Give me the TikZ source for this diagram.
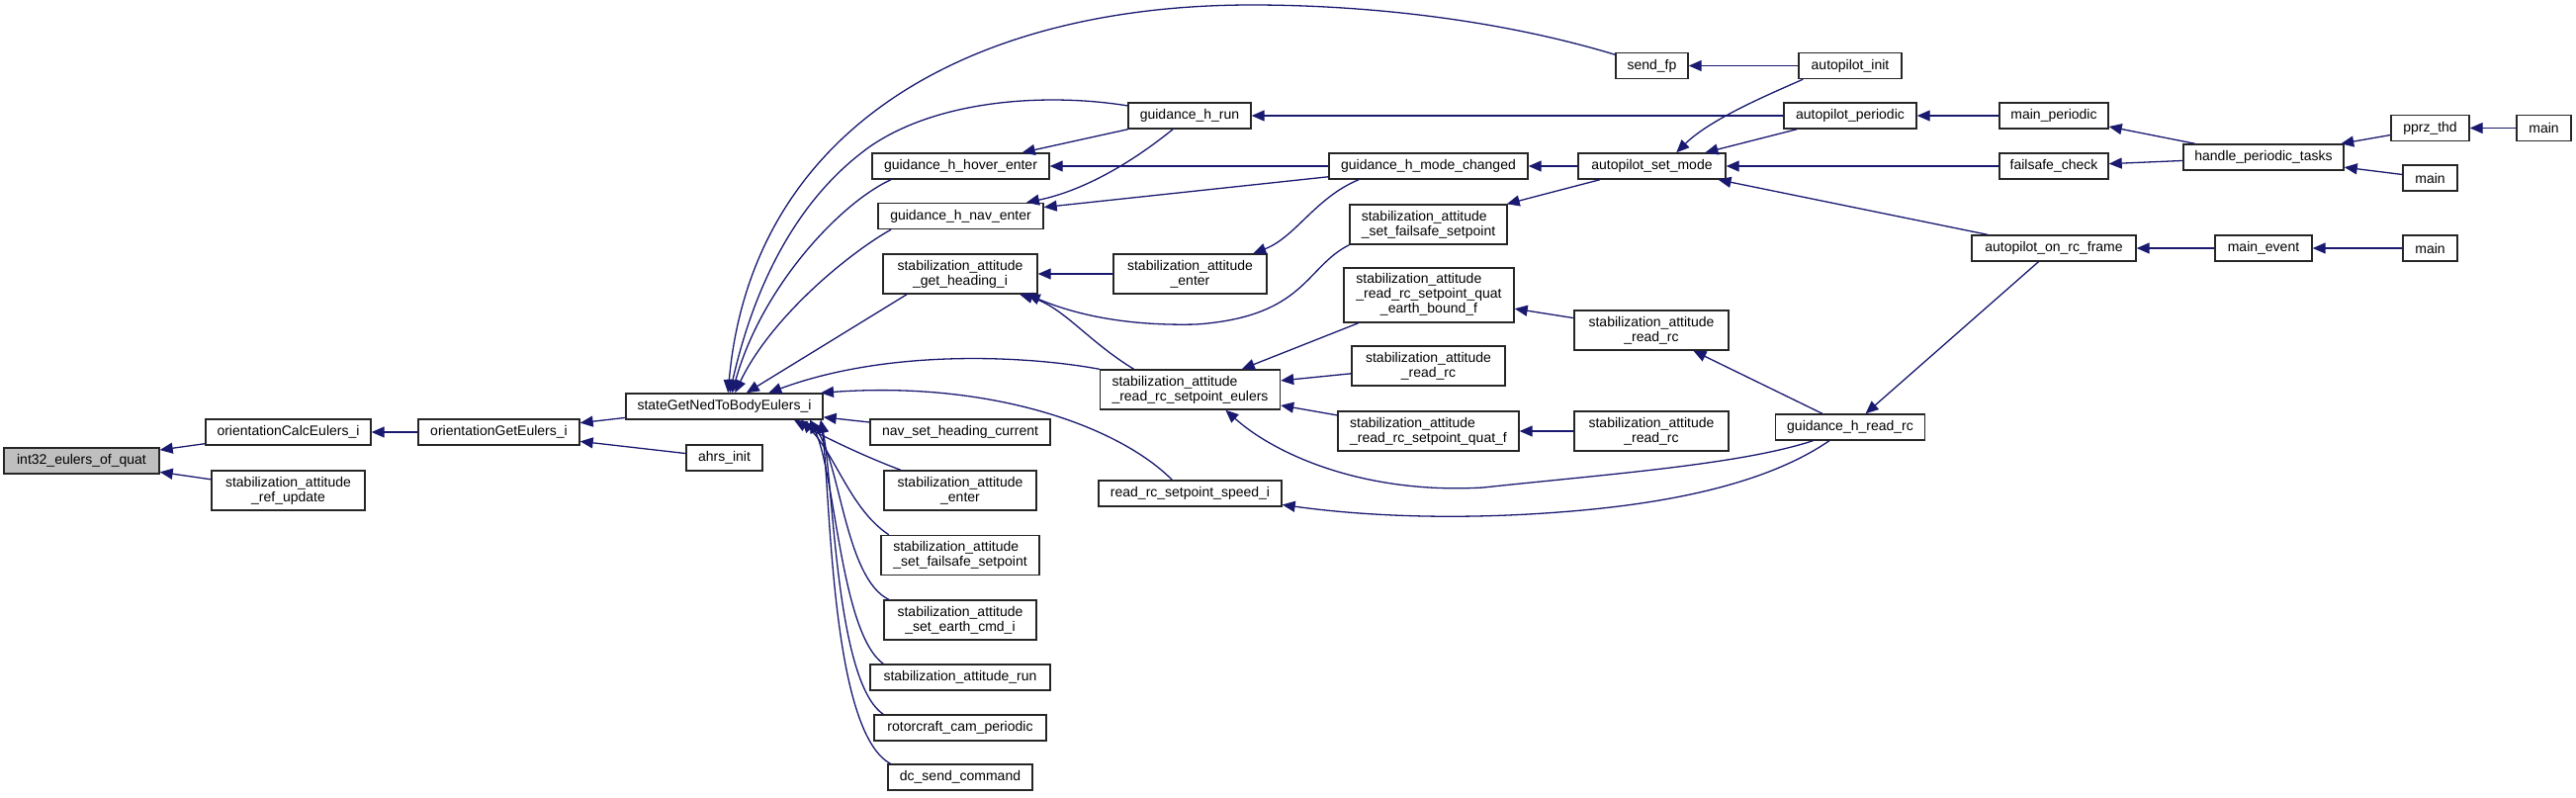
\documentclass[tikz,border=0pt]{standalone}
\usepackage{fontspec}
\setmainfont{Liberation Sans}
\usetikzlibrary{arrows.meta}
\definecolor{edgeblue}{HTML}{191970}

\begin{document}
\begin{tikzpicture}[x=1pt,y=-1pt,
    fn/.style={draw=black!85,line width=1.4pt,fill=white,inner sep=0pt,
      minimum height=26pt,align=center,font=\fontsize{14}{15}\selectfont},
    fntwo/.style={fn,minimum height=40pt},
    fnhere/.style={fn,fill=black!25},
    call/.style={draw=edgeblue,line width=1.3pt,-{Triangle[length=13pt,width=11pt]}}]
  \useasboundingbox (0,0) rectangle (2605,806);

  % NODES (left to right)
  \node[fnhere,minimum width=157pt] (int32) at (82.5,466) {int32\_eulers\_of\_quat};

  \node[fn,minimum width=167pt]    (calc)   at (291.5,437) {orientationCalcEulers\_i};
  \node[fntwo,minimum width=155pt] (refupd) at (291.5,496) {stabilization\_attitude\\\_ref\_update};

  \node[fn,minimum width=163pt] (geteul) at (504.5,437) {orientationGetEulers\_i};

  \node[fn,minimum width=199pt] (stateget) at (732.5,411) {stateGetNedToBodyEulers\_i};
  \node[fn,minimum width=77pt]  (ahrs)     at (732.5,463) {ahrs\_init};

  \node[fn,minimum width=179pt]    (hover)   at (971.5,168) {guidance\_h\_hover\_enter};
  \node[fn,minimum width=167pt]    (nav)     at (971.5,218.5) {guidance\_h\_nav\_enter};
  \node[fntwo,minimum width=156pt] (heading) at (971,277) {stabilization\_attitude\\\_get\_heading\_i};
  \node[fn,minimum width=182pt]    (navset)  at (971,437) {nav\_set\_heading\_current};
  \node[fntwo,minimum width=154pt] (enter2)  at (971,496) {stabilization\_attitude\\\_enter};
  \node[fntwo,minimum width=160pt,align=left] (fsafe2) at (971,561.5) {stabilization\_attitude\\\_set\_failsafe\_setpoint};
  \node[fntwo,minimum width=154pt] (earth)   at (971,627) {stabilization\_attitude\\\_set\_earth\_cmd\_i};
  \node[fn,minimum width=182pt]    (run)     at (971,685) {stabilization\_attitude\_run};
  \node[fn,minimum width=174pt]    (cam)     at (971,736) {rotorcraft\_cam\_periodic};
  \node[fn,minimum width=146pt]    (dc)      at (971,786) {dc\_send\_command};

  \node[fn,minimum width=124pt]    (hrun)   at (1203,117) {guidance\_h\_run};
  \node[fntwo,minimum width=155pt] (enter1) at (1203.5,277) {stabilization\_attitude\\\_enter};
  \node[fntwo,minimum width=182pt,align=left] (eulers) at (1203.5,394) {stabilization\_attitude\\\_read\_rc\_setpoint\_eulers};
  \node[fn,minimum width=185pt]    (speedi) at (1203.5,499) {read\_rc\_setpoint\_speed\_i};

  \node[fn,minimum width=201pt]    (modechg) at (1444.5,168) {guidance\_h\_mode\_changed};
  \node[fntwo,minimum width=159pt,align=left] (fsafe1) at (1444.5,227) {stabilization\_attitude\\\_set\_failsafe\_setpoint};
  \node[fn,minimum width=172pt,minimum height=55pt] (bound) at (1445,298.5)
    {\begin{tabular}{@{}l@{}}stabilization\_attitude\\\_read\_rc\_setpoint\_quat\\\multicolumn{1}{@{}c@{}}{\_earth\_bound\_f}\end{tabular}};
  \node[fntwo,minimum width=155pt] (readrc7) at (1444.5,370) {stabilization\_attitude\\\_read\_rc};
  \node[fntwo,minimum width=183pt,align=left] (quatf) at (1444.5,436) {stabilization\_attitude\\\_read\_rc\_setpoint\_quat\_f};

  \node[fn,minimum width=73pt]     (sendfp)  at (1670.5,66.5) {send\_fp};
  \node[fn,minimum width=149pt]    (setmode) at (1670.5,168) {autopilot\_set\_mode};
  \node[fntwo,minimum width=156pt] (readrcA) at (1670,334) {stabilization\_attitude\\\_read\_rc};
  \node[fntwo,minimum width=156pt] (readrcB) at (1670,436) {stabilization\_attitude\\\_read\_rc};

  \node[fn,minimum width=104pt] (apinit)  at (1871,66.5) {autopilot\_init};
  \node[fn,minimum width=134pt] (apper)   at (1871,117) {autopilot\_periodic};
  \node[fn,minimum width=151pt] (hreadrc) at (1871,432) {guidance\_h\_read\_rc};

  \node[fn,minimum width=110pt] (mainper) at (2077,117) {main\_periodic};
  \node[fn,minimum width=110pt] (fscheck) at (2077,168) {failsafe\_check};
  \node[fn,minimum width=166pt] (rcframe) at (2077,251) {autopilot\_on\_rc\_frame};

  \node[fn,minimum width=162pt] (hpt)    at (2289,159) {handle\_periodic\_tasks};
  \node[fn,minimum width=98pt]  (mainev) at (2289,251) {main\_event};

  \node[fn,minimum width=79pt] (pprz)  at (2457.5,129.5) {pprz\_thd};
  \node[fn,minimum width=55pt] (mainB) at (2457.5,180) {main};
  \node[fn,minimum width=55pt] (mainC) at (2457.5,251) {main};
  \node[fn,minimum width=55pt] (mainA) at (2572.5,129.5) {main};

  % ARROWS
  \draw[call] (calc) -- (int32);
  \draw[call] (refupd) -- (int32);
  \draw[call] (geteul) -- (calc);
  \draw[call] (stateget) -- (geteul);
  \draw[call] (ahrs) -- (geteul);

  % into stateGetNedToBodyEulers_i
  \draw[call] (sendfp) .. controls (1500,15) and (1360,5) .. (1266,5)
              .. controls (980,5) and (760,130) .. (stateget.75);
  \draw[call] (hrun) .. controls (1060,94) and (950,100) .. (880,148)
              .. controls (800,205) and (760,300) .. (stateget.68);
  \draw[call] (hover.191) .. controls (850,205) and (770,290) .. (stateget.60);
  \draw[call] (nav.191) .. controls (860,255) and (780,320) .. (stateget.52);
  \draw[call] (heading.201) -- (stateget);
  \draw[call] (eulers.north west) .. controls (1040,360) and (900,352) .. (stateget.17);
  \draw[call] (speedi.143) .. controls (1130,430) and (1000,385) .. (stateget.8);
  \draw[call] (navset) -- (stateget);
  \draw[call] (enter2.161) .. controls (870,460) and (830,440) .. (stateget.349);
  \draw[call] (fsafe2.164) .. controls (860,515) and (845,460) .. (stateget.350);
  \draw[call] (earth.164) .. controls (855,585) and (850,470) .. (stateget.351);
  \draw[call] (run.170) .. controls (850,640) and (845,480) .. (stateget.351);
  \draw[call] (cam.170) .. controls (845,690) and (843,490) .. (stateget.352);
  \draw[call] (dc.169) .. controls (840,740) and (840,500) .. (stateget.352);

  % middle
  \draw[call] (hrun) -- (hover);
  \draw[call] (hrun) .. controls (1150,160) and (1100,192) .. (nav);
  \draw[call] (modechg) -- (hover);
  \draw[call] (modechg) -- (nav);
  \draw[call] (modechg.191) .. controls (1330,200) and (1310,240) .. (enter1.18);
  \draw[call] (enter1) -- (heading);
  \draw[call] (fsafe1.south west) .. controls (1320,270) and (1320,320) .. (1210,328)
              .. controls (1130,330) and (1080,315) .. (heading.343);
  \draw[call] (eulers.160) .. controls (1100,345) and (1075,310) .. (heading.341);
  \draw[call] (bound) -- (eulers);
  \draw[call] (readrc7) -- (eulers);
  \draw[call] (quatf) -- (eulers);
  \draw[call] (readrcA) -- (bound);
  \draw[call] (readrcB) -- (quatf);
  \draw[call] (hreadrc.200) .. controls (1760,470) and (1620,480) .. (1500,493)
              .. controls (1380,500) and (1290,460) .. (eulers.330);
  \draw[call] (hreadrc.213) .. controls (1800,480) and (1720,505) .. (1600,516)
              .. controls (1480,527) and (1380,522) .. (speedi.353);
  \draw[call] (hreadrc) -- (readrcA);

  % right
  \draw[call] (apinit) -- (sendfp);
  \draw[call] (apinit.196) .. controls (1790,95) and (1730,120) .. (setmode.29);
  \draw[call] (apper) -- (hrun);
  \draw[call] (apper) -- (setmode);
  \draw[call] (setmode) -- (modechg);
  \draw[call] (setmode) -- (fsafe1);
  \draw[call] (fscheck) -- (setmode);
  \draw[call] (rcframe) -- (setmode);
  \draw[call] (mainper) -- (apper);
  \draw[call] (hpt) -- (mainper);
  \draw[call] (hpt) -- (fscheck);
  \draw[call] (pprz) -- (hpt);
  \draw[call] (mainB) -- (hpt);
  \draw[call] (mainA) -- (pprz);
  \draw[call] (mainev) -- (rcframe);
  \draw[call] (mainC) -- (mainev);
  \draw[call] (rcframe) -- (hreadrc);
\end{tikzpicture}
\end{document}
